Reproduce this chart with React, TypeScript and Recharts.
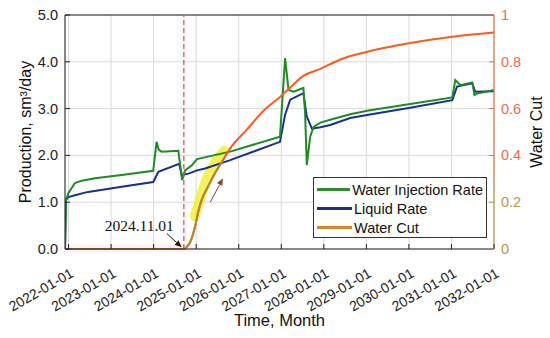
import React from "react";
import { LineChart, Line, XAxis, YAxis, CartesianGrid, ReferenceLine, ReferenceArea, Legend } from "recharts";

const FONT = "'Liberation Sans', Arial, Helvetica, sans-serif";
const SERIF = "'Liberation Serif', 'Times New Roman', serif";

// axis ticks
const years = [2022, 2023, 2024, 2025, 2026, 2027, 2028, 2029, 2030, 2031, 2032];
const yearLabels = ["2022-01-01", "2023-01-01", "2024-01-01", "2025-01-01", "2026-01-01", "2027-01-01",
  "2028-01-01", "2029-01-01", "2030-01-01", "2031-01-01", "2032-01-01"];
const prodTicks = [0, 1, 2, 3, 4, 5];
const cutTicks = [0, 0.2, 0.4, 0.6, 0.8, 1];

// water injection rate (sm3/day), time in decimal years
const injTimes = [2021.917, 2021.94, 2021.995, 2022.15, 2022.31, 2022.62, 2023.25, 2023.99, 2024.07, 2024.12, 2024.19,
  2024.58, 2024.62, 2024.67, 2024.74, 2024.9, 2025.02, 2025.8, 2026.97, 2027.09, 2027.17, 2027.29, 2027.52, 2027.56,
  2027.6, 2027.68, 2027.76, 2027.92, 2028.15, 2028.62, 2029.05, 2030.03, 2031.02, 2031.09, 2031.21, 2031.49, 2031.54,
  2031.6, 2032.0];
const injRate = [0, 1.05, 1.19, 1.41, 1.46, 1.51, 1.58, 1.67, 2.29, 2.12, 2.08,
  2.1, 1.83, 1.47, 1.68, 1.79, 1.92, 2.08, 2.4, 4.08, 3.4, 3.36, 3.44, 2.9,
  1.79, 2.4, 2.61, 2.7, 2.76, 2.88, 2.96, 3.1, 3.24, 3.61, 3.5, 3.56, 3.29,
  3.32, 3.4];

// liquid rate (sm3/day)
const liqTimes = [2021.917, 2021.94, 2021.995, 2022.15, 2022.46, 2023.25, 2023.99, 2024.03, 2024.11, 2024.6, 2024.66,
  2024.82, 2025.02, 2025.21, 2025.8, 2026.97, 2027.09, 2027.21, 2027.52, 2027.6, 2027.72, 2027.92, 2028.15, 2028.62,
  2029.05, 2030.03, 2031.02, 2031.13, 2031.49, 2031.56, 2032.0];
const liqRate = [0, 1.05, 1.11, 1.15, 1.22, 1.33, 1.43, 1.5, 1.65, 1.82, 1.58,
  1.61, 1.68, 1.72, 1.9, 2.29, 2.87, 3.19, 3.33, 2.83, 2.57, 2.6, 2.65, 2.8,
  2.87, 3.02, 3.18, 3.47, 3.54, 3.36, 3.37];

// water cut (fraction)
const cutTimes = [2021.917, 2024.72, 2024.78, 2024.86, 2024.92, 2024.98, 2025.05, 2025.13, 2025.26, 2025.4, 2025.63,
  2025.8, 2026.19, 2026.58, 2026.97, 2027.21, 2027.52, 2027.92, 2028.15, 2028.39, 2029.05, 2030.03, 2031.02, 2032.0];
const waterCut = [0, 0, 0.01, 0.03, 0.06, 0.1, 0.16, 0.21, 0.26, 0.31, 0.38,
  0.43, 0.51, 0.59, 0.65, 0.69, 0.74, 0.77, 0.79, 0.81, 0.844, 0.88, 0.907, 0.925];

// hand-drawn highlight over the early water cut rise
const markTimes = [2024.97, 2025.25, 2025.66];
const markCut = [0.14, 0.3, 0.42];

const eventTime = 2024.71;
const eventLabel = "2024.11.01";

const injData = injTimes.map((t, i) => ({ t, v: injRate[i] }));
const liqData = liqTimes.map((t, i) => ({ t, v: liqRate[i] }));
const cutData = cutTimes.map((t, i) => ({ t, v: waterCut[i] }));
const cutEarly = cutData.filter((d) => d.t <= 2025.63);
const markData = markTimes.map((t, i) => ({ t, v: markCut[i] }));

const legendItems = [
  { name: "Water Injection Rate", color: "#2D8A2D" },
  { name: "Liquid Rate", color: "#1D2F8A" },
  { name: "Water Cut", color: "#D8862A" },
];

function LeftTick({ x, y, payload }: any) {
  return (
    <g>
      <line x1={x + 7} x2={x + 12} y1={y} y2={y} stroke="#222" />
      <text x={x} y={y} dy={5} textAnchor="end" fontSize={14.5} fill="#222" fontFamily={FONT}>
        {Number(payload.value).toFixed(1)}
      </text>
    </g>
  );
}

function RightTick({ x, y, payload }: any) {
  const v = Number(payload.value);
  const c = v < 0.3 ? "#B8964E" : "#E8704A";
  return (
    <g>
      <line x1={x - 7} x2={x - 12} y1={y} y2={y} stroke={c} />
      <text x={x} y={y} dy={5} textAnchor="start" fontSize={14.5} fill={c} fontFamily={FONT}>
        {String(v)}
      </text>
    </g>
  );
}

function TimeTick({ x, y, payload }: any) {
  const i = years.indexOf(Number(payload.value));
  return (
    <g>
      <line x1={x} x2={x} y1={y - 8} y2={y - 13} stroke="#222" />
      <text transform={`translate(${x + 6},${y + 19}) rotate(-30)`} textAnchor="end" fontSize={14}
        fill="#222" fontFamily={FONT}>
        {yearLabels[i]}
      </text>
    </g>
  );
}

function arrowShape(color: string, text?: string) {
  return (p: any) => {
    const { x1, y1, x2, y2 } = p;
    const a = Math.atan2(y2 - y1, x2 - x1);
    const L = 7, W = 3;
    const bx = x2 - L * Math.cos(a), by = y2 - L * Math.sin(a);
    const pts = `${x2},${y2} ${bx - W * Math.sin(a)},${by + W * Math.cos(a)} ${bx + W * Math.sin(a)},${by - W * Math.cos(a)}`;
    return (
      <g>
        <line x1={x1} y1={y1} x2={bx} y2={by} stroke={color} strokeWidth={1} />
        <polygon points={pts} fill={color} />
        {text && (
          <text x={x1 + 7} y={y1 - 3} textAnchor="end" fontSize={15.5} fill="#111" fontFamily={SERIF}>
            {text}
          </text>
        )}
      </g>
    );
  };
}

function LegendBox() {
  return (
    <div style={{ border: "1px solid #333", background: "#fff", padding: "2px 3px", width: 174, height: 61,
      boxSizing: "border-box", fontFamily: FONT, fontSize: 14.5, color: "#111" }}>
      {legendItems.map((it) => (
        <div key={it.name} style={{ display: "flex", alignItems: "center", height: 19, whiteSpace: "nowrap" }}>
          <span style={{ display: "inline-block", width: 35, height: 3, background: it.color, marginRight: 2 }} />
          {it.name}
        </div>
      ))}
    </div>
  );
}

export default function App() {
  return (
    <div style={{ position: "absolute", left: 0, top: 0, width: 550, height: 338, background: "#fff" }}>
      <LineChart width={550} height={338} margin={{ top: 15, right: 0, bottom: 0, left: 0 }}>
        <defs>
          <linearGradient id="cutAxis" gradientUnits="userSpaceOnUse" x1={0} y1={15} x2={0} y2={249}>
            <stop offset="0" stopColor="#E8704A" />
            <stop offset="0.68" stopColor="#E8704A" />
            <stop offset="0.76" stopColor="#B8964E" />
            <stop offset="1" stopColor="#B8964E" />
          </linearGradient>
        </defs>
        <CartesianGrid yAxisId="left" stroke="#dadada" strokeWidth={1} />
        <XAxis dataKey="t" type="number" domain={[2021.917, 2032]} ticks={years} interval={0} allowDataOverflow
          height={89} tickSize={6} tickMargin={2} tickLine={false} axisLine={{ stroke: "#222" }} tick={<TimeTick />}
          label={(p: any) => (
            <text x={p.viewBox.x + p.viewBox.width / 2} y={p.viewBox.y + 77} textAnchor="middle" fontSize={16.5}
              fill="#111" fontFamily={FONT}>Time, Month</text>
          )} />
        <YAxis yAxisId="left" domain={[0, 5]} ticks={prodTicks} width={65} tickSize={5} tickMargin={2}
          tickLine={false} axisLine={{ stroke: "#222" }} tick={<LeftTick />} allowDataOverflow
          label={(p: any) => (
            <text transform={`translate(${p.viewBox.x + 31},${p.viewBox.y + p.viewBox.height / 2}) rotate(-90)`}
              textAnchor="middle" fontSize={16} fill="#111" fontFamily={FONT}>Production, sm³/day</text>
          )} />
        <YAxis yAxisId="right" orientation="right" domain={[0, 1]} ticks={cutTicks} width={56} tickSize={5}
          tickMargin={2} tickLine={false} axisLine={{ stroke: "url(#cutAxis)", strokeWidth: 1.2 }} tick={<RightTick />}
          label={(p: any) => (
            <text transform={`translate(${p.viewBox.x + 48},${p.viewBox.y + p.viewBox.height / 2}) rotate(-90)`}
              textAnchor="middle" fontSize={16} fill="#111" fontFamily={FONT}>Water Cut</text>
          )} />
        <ReferenceArea yAxisId="left" x1={2021.917} x2={2025.1} y1={-0.08} y2={0.1} fill="#ff66cc" fillOpacity={0.08}
          stroke="none" ifOverflow="visible" />
        <ReferenceLine yAxisId="left" y={5} stroke="#222" />
        <Line yAxisId="right" data={markData} dataKey="v" type="monotone" stroke="#F2EE2A" strokeOpacity={0.75}
          strokeWidth={10} strokeLinecap="round" dot={false} legendType="none" isAnimationActive={false} />
        <Line yAxisId="left" data={liqData} dataKey="v" name="Liquid Rate" type="linear" stroke="#18318C"
          strokeWidth={2} dot={false} isAnimationActive={false} />
        <Line yAxisId="left" data={injData} dataKey="v" name="Water Injection Rate" type="linear" stroke="#1E8B24"
          strokeWidth={2} dot={false} isAnimationActive={false} />
        <Line yAxisId="right" data={cutData} dataKey="v" name="Water Cut" type="monotone" stroke="#FF5A1F"
          strokeWidth={2} dot={false} isAnimationActive={false} />
        <Line yAxisId="right" data={cutEarly} dataKey="v" type="monotone" stroke="#B08A2A" strokeWidth={2}
          dot={false} legendType="none" isAnimationActive={false} />
        <ReferenceLine yAxisId="left" x={eventTime} stroke="#E0505A" strokeDasharray="5 3" strokeWidth={1.3} />
        <ReferenceLine yAxisId="left" segment={[{ x: 2024.31, y: 0.33 }, { x: 2024.66, y: 0.04 }]}
          shape={arrowShape("#2a1010", eventLabel)} />
        <ReferenceLine yAxisId="left" segment={[{ x: 2025.33, y: 1.0 }, { x: 2025.63, y: 1.51 }]}
          shape={arrowShape("#8B4A2A")} />
        <Legend layout="vertical" align="center" verticalAlign="middle" content={() => <LegendBox />}
          wrapperStyle={{ left: 313, top: 177, width: 174, height: 61 }} />
      </LineChart>
    </div>
  );
}
